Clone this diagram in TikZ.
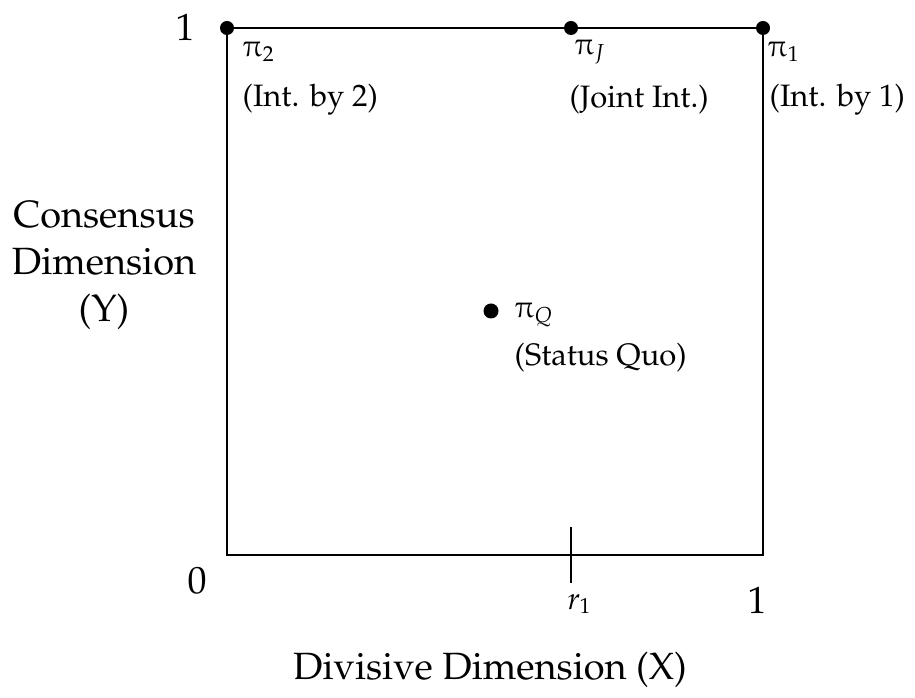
\documentclass[tikz,border=0pt]{standalone}
\usepackage[T1]{fontenc}
\usepackage{pxfonts}
\usepackage{tikz}
\usetikzlibrary{positioning}

\begin{document}
\begin{tikzpicture}[x=0.01cm,y=-0.01cm,
  dot/.style={circle,fill=black,inner sep=0pt,minimum size=0.14cm},
  big/.style={font=\fontsize{10.8}{13.5}\selectfont,inner sep=0pt},
  small/.style={font=\fontsize{8.8}{11}\selectfont,inner sep=0pt,anchor=west}]
  \useasboundingbox (0,0) rectangle (915,698);
  % corners of the policy square
  \coordinate (ll) at (227,555);
  \coordinate (lr) at (763,555);
  \coordinate (ul) at (227,28);
  \coordinate (ur) at (763,28);
  \draw[line width=0.7pt] (ll) -- (ul) -- (ur) -- (lr) -- cycle;
  % points on the top edge
  \node[dot] (p2) at (ul) {};
  \node[dot] (pj) at (571,28) {};
  \node[dot] (p1) at (ur) {};
  \node[dot,minimum size=0.15cm] (pq) at (491,311) {};
  \node[small] (lp2) at (242,52) {$\piup_{2}$};
  \node[small] (lpj) at (574,52) {$\piup_{J}$};
  \node[small] (lp1) at (767,52) {$\piup_{1}$};
  \node[small] (t2) at (242,100) {(Int. by 2)};
  \node[small] (tj) at (569,100) {(Joint Int.)};
  \node[small] (t1) at (769,100) {(Int. by 1)};
  \node[small] (lpq) at (514,315) {$\piup_{Q}$};
  \node[small] (tq) at (514,358) {(Status Quo)};
  % the r1 tick
  \coordinate (rtop) at (571,527);
  \coordinate (rbot) at (571,583);
  \draw[line width=0.7pt] (rtop) -- (rbot);
  \node[small,anchor=center] (r1) at (580,604) {$r_1$};
  % axis values and titles
  \node[big] (one-y) at (185,27) {1};
  \node[big] (zero) at (197,580) {0};
  \node[big] (one-x) at (757,600) {1};
  \node[big,align=center] (ylab) at (104,265) {Consensus\\Dimension\\(Y)};
  \node[big] (xlab) at (490,670) {Divisive Dimension (X)};
\end{tikzpicture}
\end{document}
